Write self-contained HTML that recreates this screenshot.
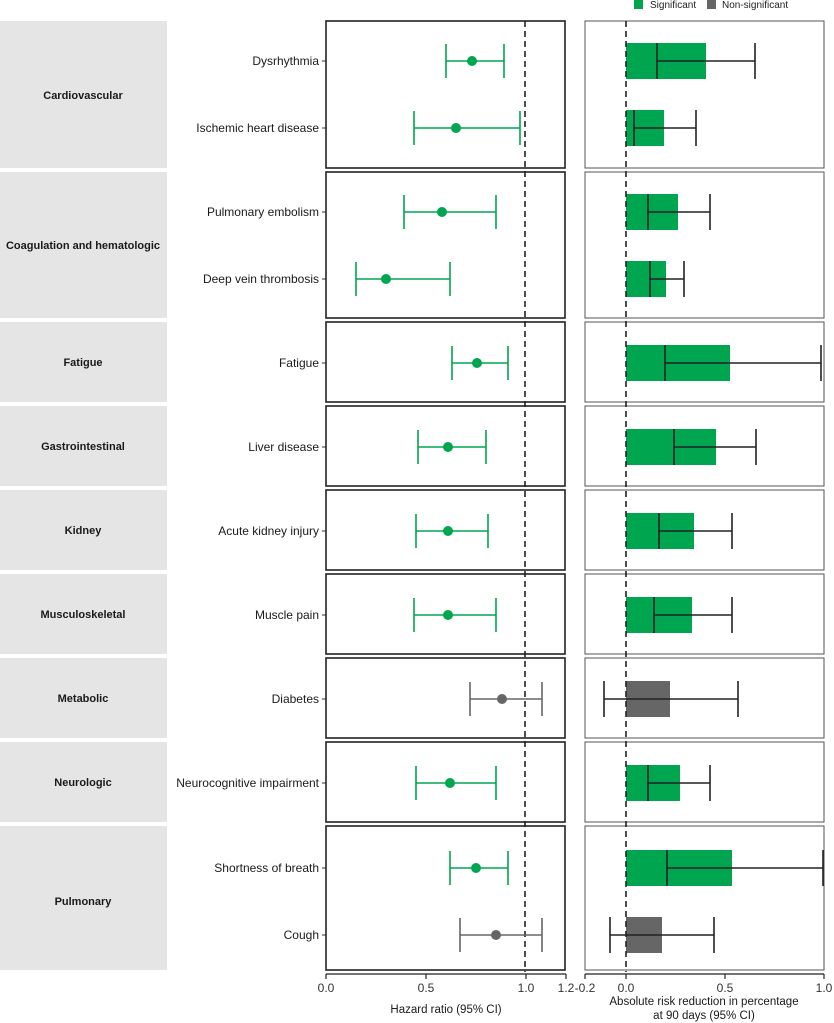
<!DOCTYPE html>
<html><head><meta charset="utf-8"><style>
html,body{margin:0;padding:0;background:#fff;}
svg{display:block;font-family:"Liberation Sans",Arial,sans-serif;}
</style></head><body>
<svg width="834" height="1023" viewBox="0 0 834 1023" xmlns="http://www.w3.org/2000/svg">
<rect x="634" y="0" width="9" height="9" fill="#00a550"/>
<text x="650" y="8" font-size="10" fill="#222">Significant</text>
<rect x="707" y="0" width="9" height="9" fill="#666"/>
<text x="722" y="8" font-size="10" fill="#222">Non-significant</text>

<g fill="#e5e5e5">
<rect x="0" y="21" width="167" height="147"/>
<rect x="0" y="172" width="167" height="146"/>
<rect x="0" y="322" width="167" height="80"/>
<rect x="0" y="406" width="167" height="80"/>
<rect x="0" y="490" width="167" height="80"/>
<rect x="0" y="574" width="167" height="80"/>
<rect x="0" y="658" width="167" height="80"/>
<rect x="0" y="742" width="167" height="80"/>
<rect x="0" y="826" width="167" height="144"/>
</g>
<g font-size="11" font-weight="bold" fill="#1a1a1a" text-anchor="middle">
<text x="83" y="99">Cardiovascular</text>
<text x="83" y="249">Coagulation and hematologic</text>
<text x="83" y="366">Fatigue</text>
<text x="83" y="450">Gastrointestinal</text>
<text x="83" y="534">Kidney</text>
<text x="83" y="618">Musculoskeletal</text>
<text x="83" y="702">Metabolic</text>
<text x="83" y="786">Neurologic</text>
<text x="83" y="905">Pulmonary</text>
</g>

<g font-size="12" fill="#1a1a1a" text-anchor="end">
<text x="319" y="65">Dysrhythmia</text>
<text x="319" y="132">Ischemic heart disease</text>
<text x="319" y="216">Pulmonary embolism</text>
<text x="319" y="283">Deep vein thrombosis</text>
<text x="319" y="367">Fatigue</text>
<text x="319" y="451">Liver disease</text>
<text x="319" y="535">Acute kidney injury</text>
<text x="319" y="619">Muscle pain</text>
<text x="319" y="703">Diabetes</text>
<text x="319" y="787">Neurocognitive impairment</text>
<text x="319" y="872">Shortness of breath</text>
<text x="319" y="939">Cough</text>
</g>
<g stroke="#333" stroke-width="1">
<line x1="322" x2="326" y1="61" y2="61"/><line x1="322" x2="326" y1="128" y2="128"/>
<line x1="322" x2="326" y1="212" y2="212"/><line x1="322" x2="326" y1="279" y2="279"/>
<line x1="322" x2="326" y1="363" y2="363"/><line x1="322" x2="326" y1="447" y2="447"/>
<line x1="322" x2="326" y1="531" y2="531"/><line x1="322" x2="326" y1="615" y2="615"/>
<line x1="322" x2="326" y1="699" y2="699"/><line x1="322" x2="326" y1="783" y2="783"/>
<line x1="322" x2="326" y1="868" y2="868"/><line x1="322" x2="326" y1="935" y2="935"/>
</g>

<g fill="#00a550">
<rect x="626" y="43" width="80" height="36"/>
<rect x="626" y="110" width="38" height="36"/>
<rect x="626" y="194" width="52" height="36"/>
<rect x="626" y="261" width="40" height="36"/>
<rect x="626" y="345" width="104" height="36"/>
<rect x="626" y="429" width="90" height="36"/>
<rect x="626" y="513" width="68" height="36"/>
<rect x="626" y="597" width="66" height="36"/>
<rect x="626" y="765" width="54" height="36"/>
<rect x="626" y="850" width="106" height="36"/>
</g>
<g fill="#666">
<rect x="626" y="681" width="44" height="36"/>
<rect x="626" y="917" width="36" height="36"/>
</g>

<g fill="none" stroke="#222" stroke-width="1.6">
<rect x="326" y="21" width="239" height="147"/>
<rect x="326" y="172" width="239" height="146"/>
<rect x="326" y="322" width="239" height="80"/>
<rect x="326" y="406" width="239" height="80"/>
<rect x="326" y="490" width="239" height="80"/>
<rect x="326" y="574" width="239" height="80"/>
<rect x="326" y="658" width="239" height="80"/>
<rect x="326" y="742" width="239" height="80"/>
<rect x="326" y="826" width="239" height="144"/>
</g>
<g fill="none" stroke="#555" stroke-width="1">
<rect x="585" y="21" width="239" height="147"/>
<rect x="585" y="172" width="239" height="146"/>
<rect x="585" y="322" width="239" height="80"/>
<rect x="585" y="406" width="239" height="80"/>
<rect x="585" y="490" width="239" height="80"/>
<rect x="585" y="574" width="239" height="80"/>
<rect x="585" y="658" width="239" height="80"/>
<rect x="585" y="742" width="239" height="80"/>
<rect x="585" y="826" width="239" height="144"/>
</g>

<line x1="525" y1="21" x2="525" y2="972" stroke="#222" stroke-width="1.6" stroke-dasharray="6,4"/>
<line x1="626" y1="21" x2="626" y2="972" stroke="#222" stroke-width="1.6" stroke-dasharray="6,4"/>

<g stroke="#00a550" stroke-width="1.6" fill="none">
<path d="M446 61H504M446 44V78M504 44V78"/>
<path d="M414 128H520M414 111V145M520 111V145"/>
<path d="M404 212H496M404 195V229M496 195V229"/>
<path d="M356 279H450M356 262V296M450 262V296"/>
<path d="M452 363H508M452 346V380M508 346V380"/>
<path d="M418 447H486M418 430V464M486 430V464"/>
<path d="M416 531H488M416 514V548M488 514V548"/>
<path d="M414 615H496M414 598V632M496 598V632"/>
<path d="M416 783H496M416 766V800M496 766V800"/>
<path d="M450 868H508M450 851V885M508 851V885"/>
</g>
<g stroke="#666" stroke-width="1.6" fill="none">
<path d="M470 699H542M470 682V716M542 682V716"/>
<path d="M460 935H542M460 918V952M542 918V952"/>
</g>
<g fill="#00a550">
<circle cx="472" cy="61" r="5"/><circle cx="456" cy="128" r="5"/>
<circle cx="442" cy="212" r="5"/><circle cx="386" cy="279" r="5"/>
<circle cx="477" cy="363" r="5"/><circle cx="448" cy="447" r="5"/>
<circle cx="448" cy="531" r="5"/><circle cx="448" cy="615" r="5"/>
<circle cx="450" cy="783" r="5"/><circle cx="476" cy="868" r="5"/>
</g>
<g fill="#666">
<circle cx="502" cy="699" r="5"/><circle cx="496" cy="935" r="5"/>
</g>

<g stroke="#222" stroke-width="1.6" fill="none">
<path d="M657 61H755M657 43V79M755 43V79"/>
<path d="M634 128H696M634 110V146M696 110V146"/>
<path d="M648 212H710M648 194V230M710 194V230"/>
<path d="M650 279H684M650 261V297M684 261V297"/>
<path d="M665 363H821M665 345V381M821 345V381"/>
<path d="M674 447H756M674 429V465M756 429V465"/>
<path d="M659 531H732M659 513V549M732 513V549"/>
<path d="M654 615H732M654 597V633M732 597V633"/>
<path d="M604 699H738M604 681V717M738 681V717"/>
<path d="M648 783H710M648 765V801M710 765V801"/>
<path d="M667 868H823M667 850V886M823 850V886"/>
<path d="M610 935H714M610 917V953M714 917V953"/>
</g>

<g stroke="#222" stroke-width="1.2">
<line x1="326" y1="974" x2="566" y2="974"/>
<line x1="326" y1="974" x2="326" y2="979"/><line x1="426" y1="974" x2="426" y2="979"/>
<line x1="526" y1="974" x2="526" y2="979"/><line x1="566" y1="974" x2="566" y2="979"/>
<line x1="585" y1="974" x2="824" y2="974"/>
<line x1="585" y1="974" x2="585" y2="979"/><line x1="626" y1="974" x2="626" y2="979"/>
<line x1="725" y1="974" x2="725" y2="979"/><line x1="824" y1="974" x2="824" y2="979"/>
</g>
<g font-size="12" fill="#333" text-anchor="middle">
<text x="326" y="992">0.0</text><text x="426" y="992">0.5</text>
<text x="526" y="992">1.0</text><text x="566" y="992">1.2</text>
<text x="585" y="992">-0.2</text><text x="626" y="992">0.0</text>
<text x="725" y="992">0.5</text><text x="824" y="992">1.0</text>
</g>
<g font-size="11.5" fill="#1a1a1a" text-anchor="middle">
<text x="446" y="1013">Hazard ratio (95% CI)</text>
<text x="704" y="1005">Absolute risk reduction in percentage</text>
<text x="704" y="1019">at 90 days (95% CI)</text>
</g>
</svg>
</body></html>
